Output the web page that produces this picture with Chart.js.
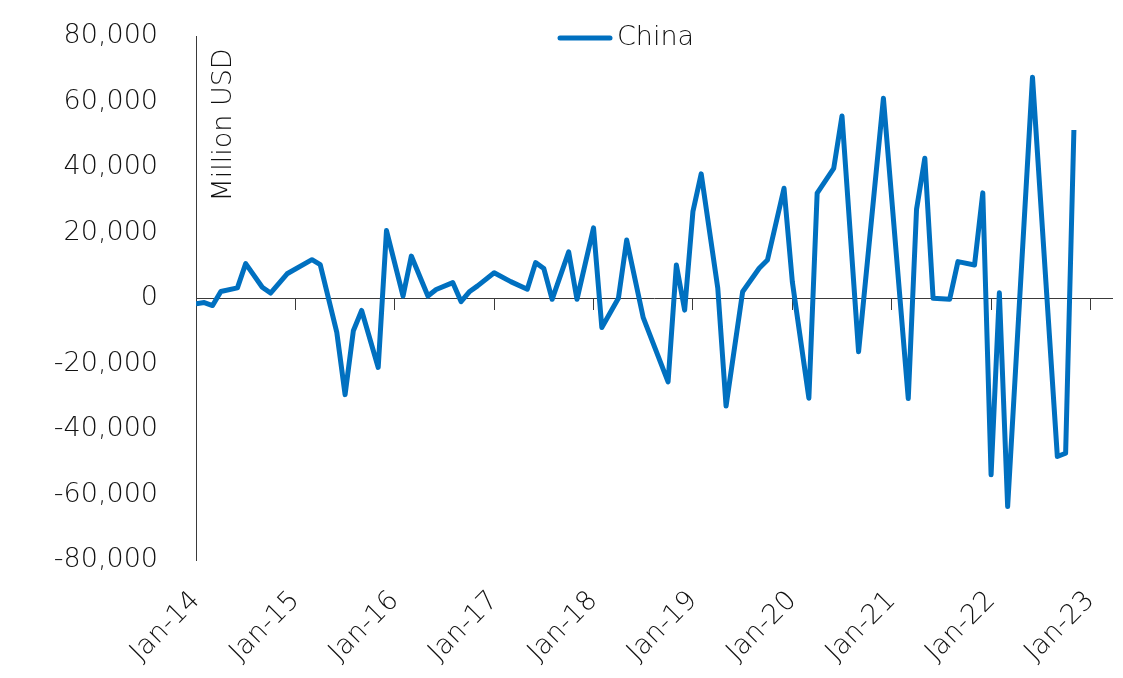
<!DOCTYPE html>
<html>
<head>
<meta charset="utf-8">
<script src="https://cdn.jsdelivr.net/npm/chart.js@4/dist/chart.umd.min.js"></script>
<style>
  html, body { margin: 0; padding: 0; background: #ffffff; }
  #wrap { width: 1123px; height: 678px; position: relative; }
</style>
</head>
<body>
<div id="wrap"><canvas id="c" width="1123" height="678"></canvas></div>
<script>
// Monthly net flow, China (million USD). Periods listed where the series turns.
const periods = [
  '2014-01','2014-02','2014-03','2014-04','2014-06','2014-07','2014-09','2014-10','2014-12',
  '2015-03','2015-04','2015-06','2015-07','2015-08','2015-09','2015-11','2015-12',
  '2016-02','2016-03','2016-05','2016-06','2016-08','2016-09','2016-10','2016-11',
  '2017-01','2017-03','2017-05','2017-06','2017-07','2017-08','2017-10','2017-11',
  '2018-01','2018-02','2018-04','2018-05','2018-07','2018-10','2018-11','2018-12',
  '2019-01','2019-02','2019-04','2019-05','2019-07','2019-09','2019-10','2019-12',
  '2020-01','2020-03','2020-04','2020-06','2020-07','2020-09','2020-12',
  '2021-03','2021-04','2021-05','2021-06','2021-08','2021-09','2021-11','2021-12',
  '2022-01','2022-02','2022-03','2022-06','2022-09','2022-10','2022-11'
];
const chinaValues = [
  -1800, -1400, -2300, 2000, 3100, 10500, 3300, 1500, 7400,
  11700, 10200, -10500, -29500, -10000, -3800, -21200, 20600,
  600, 12800, 600, 2600, 4700, -1100, 1900, 3700,
  7700, 5000, 2700, 10800, 9000, -400, 14100, -400,
  21400, -9000, -100, 17700, -6000, -25600, 10100, -3700,
  26400, 37900, 3000, -33000, 1900, 9100, 11600, 33500,
  5000, -30600, 32000, 39600, 55600, -16400, 61000,
  -30700, 27100, 42700, -100, -400, 11100, 10100, 32100,
  -54000, 1600, -63700, 67400, -48400, -47400, 51300
];
const xTickLabels = ['Jan-14','Jan-15','Jan-16','Jan-17','Jan-18','Jan-19','Jan-20','Jan-21','Jan-22','Jan-23'];
const yTickValues = [-80000, -60000, -40000, -20000, 0, 20000, 40000, 60000, 80000];
const seriesName = 'China';
const unitLabel = 'Million USD';

// months counted from Jan-14
const monthIndex = p => (parseInt(p.slice(0, 4), 10) - 2014) * 12 + (parseInt(p.slice(5, 7), 10) - 1);
const points = periods.map((p, i) => ({ x: monthIndex(p), y: chinaValues[i] }));

const FONT = 'DejaVu Sans';
const FONT_SIZE = 27;
const TEXT = '#111111';
const AXIS = '#3a3a3a';
const BLUE = '#0070C0';
const X_MAX = 110.6;

Chart.defaults.font.family = FONT;
Chart.defaults.font.size = FONT_SIZE;
Chart.defaults.font.weight = '300';
Chart.defaults.color = TEXT;

// legend and unit caption drawn on top of the plot
const overlay = {
  id: 'overlay',
  afterDraw(chart) {
    const ctx = chart.ctx;
    const ds = chart.data.datasets[0];
    ctx.save();
    ctx.font = '300 ' + FONT_SIZE + 'px "' + FONT + '"';
    ctx.fillStyle = TEXT;
    // legend entry
    ctx.strokeStyle = ds.borderColor;
    ctx.lineWidth = 5;
    ctx.lineCap = 'round';
    ctx.beginPath();
    ctx.moveTo(560, 38);
    ctx.lineTo(610, 38);
    ctx.stroke();
    ctx.textAlign = 'left';
    ctx.textBaseline = 'middle';
    ctx.fillText(ds.label, 617, 38);
    // unit caption, rotated
    ctx.translate(chart.chartArea.left + 28, 125);
    ctx.rotate(-Math.PI / 2);
    ctx.textAlign = 'center';
    ctx.textBaseline = 'middle';
    ctx.fillText(unitLabel, 0, 0);
    ctx.restore();
  }
};

new Chart(document.getElementById('c'), {
  type: 'line',
  data: {
    datasets: [{
      label: seriesName,
      data: points,
      xAxisID: 'x',
      yAxisID: 'y',
      borderColor: BLUE,
      backgroundColor: BLUE,
      borderWidth: 5,
      borderJoinStyle: 'round',
      borderCapStyle: 'butt',
      pointRadius: 0,
      tension: 0,
      fill: false
    }]
  },
  options: {
    responsive: false,
    animation: false,
    events: [],
    layout: { padding: { top: 36, right: 11, left: 0, bottom: 0 } },
    plugins: {
      legend: { display: false },
      tooltip: { enabled: false }
    },
    scales: {
      x: {
        type: 'linear',
        position: 'bottom',
        min: 0,
        max: X_MAX,
        grid: { display: false },
        border: { display: false },
        ticks: {
          stepSize: 12,
          includeBounds: false,
          autoSkip: false,
          maxRotation: 45,
          minRotation: 45,
          padding: 17,
          color: TEXT,
          callback: v => (v % 12 === 0 ? xTickLabels[v / 12] : null)
        },
        afterFit: s => { s.height = 118; s.paddingLeft = 0; s.paddingRight = 0; }
      },
      xZero: {
        type: 'linear',
        position: { y: 0 },
        min: 0,
        max: X_MAX,
        grid: {
          display: true,
          drawOnChartArea: false,
          drawTicks: true,
          tickLength: 11,
          color: AXIS,
          lineWidth: 1
        },
        border: { display: true, color: AXIS, width: 1 },
        ticks: { display: false, stepSize: 12, includeBounds: false, autoSkip: false },
        afterFit: s => { s.paddingLeft = 0; s.paddingRight = 0; }
      },
      y: {
        type: 'linear',
        position: 'left',
        min: -80000,
        max: 80000,
        grid: { display: false, drawTicks: false },
        border: { display: true, color: AXIS, width: 1 },
        afterBuildTicks: s => { s.ticks = yTickValues.map(v => ({ value: v })); },
        ticks: {
          padding: 38,
          color: TEXT,
          callback: v => v.toLocaleString('en-US')
        },
        afterFit: s => { s.width = 196; s.paddingTop = 0; s.paddingBottom = 0; }
      }
    }
  },
  plugins: [overlay]
});
</script>
</body>
</html>
